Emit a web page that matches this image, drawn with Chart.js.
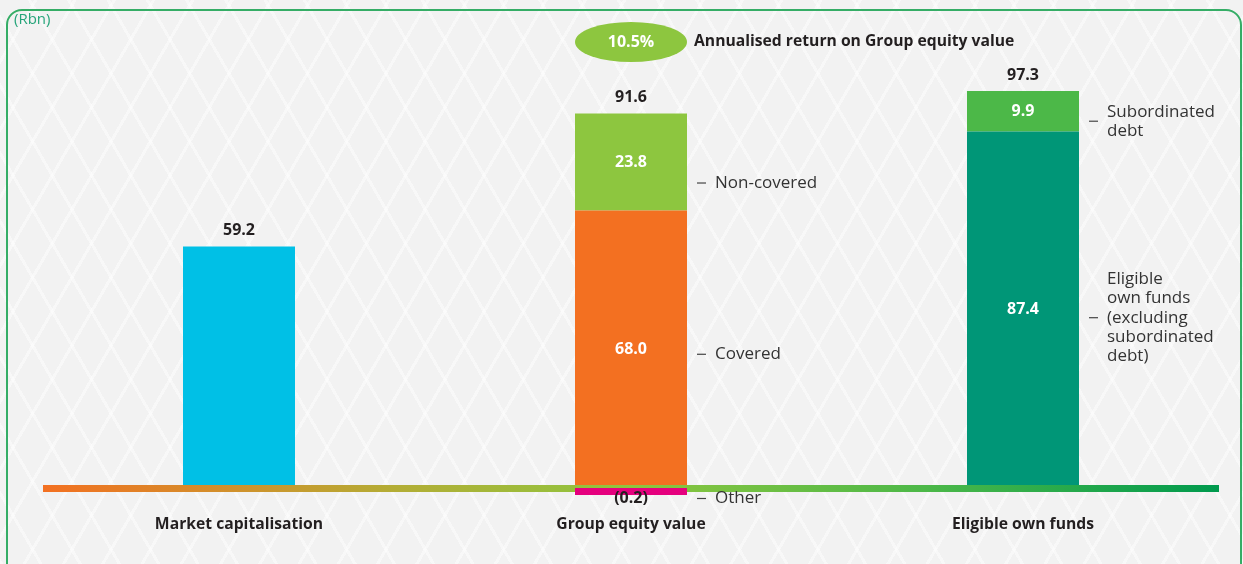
<!DOCTYPE html>
<html>
<head>
<meta charset="utf-8">
<script src="https://cdn.jsdelivr.net/npm/chart.js@4.4.1/dist/chart.umd.min.js"></script>
<style>
  html, body { margin: 0; padding: 0; width: 1243px; height: 564px; overflow: hidden; }
  body {
    background-color: #f2f2f2;
    background-image:
      repeating-linear-gradient(60deg, rgba(255,255,255,0.45) 0 3px, transparent 3px 34px),
      repeating-linear-gradient(-60deg, rgba(255,255,255,0.45) 0 3px, transparent 3px 34px);
    position: relative;
  }
  #frame {
    position: absolute; left: 6px; top: 9px; width: 1232px; height: 620px;
    border: 2px solid #35ad66; border-radius: 16px; box-sizing: content-box;
  }
  #chart { position: absolute; left: 0; top: 0; }
</style>
</head>
<body>
<div id="frame"></div>
<canvas id="chart" width="1243" height="564"></canvas>
<script>
// Group value measures (Rbn)
const categories = ['Market capitalisation', 'Group equity value', 'Eligible own funds'];
const other            = [null, -0.2, null];
const marketCap        = [59.2, null, null];
const covered          = [null, 68.0, null];
const nonCovered       = [null, 23.8, null];
const eligibleOwnFunds = [null, null, 87.4];
const subordinatedDebt = [null, null, 9.9];
const annualisedReturn = '10.5%';
const annualisedReturnText = 'Annualised return on Group equity value';
const unitLabel = '(Rbn)';

// Segment names shown to the right of the stacked bars
const segmentNames = {
  'Non-covered': ['Non-covered'],
  'Covered': ['Covered'],
  'Other': ['Other'],
  'Subordinated debt': ['Subordinated', 'debt'],
  'Eligible own funds': ['Eligible', 'own funds', '(excluding', 'subordinated', 'debt)']
};

const FONT = '"Open Sans", "DejaVu Sans", sans-serif';
const DARK = '#231f20';

const datasets = [
  { label: 'Other', data: other, backgroundColor: '#e5007e', minBarLength: 7, clip: false },
  { label: 'Market capitalisation', data: marketCap, backgroundColor: '#00c0e6' },
  { label: 'Covered', data: covered, backgroundColor: '#f37021' },
  { label: 'Non-covered', data: nonCovered, backgroundColor: '#8dc63f' },
  { label: 'Eligible own funds', data: eligibleOwnFunds, backgroundColor: '#009677' },
  { label: 'Subordinated debt', data: subordinatedDebt, backgroundColor: '#4cb848' }
].map(d => Object.assign({ stack: 's', categoryPercentage: 1, barPercentage: 0.2857, borderWidth: 0 }, d));

function fmt(v) {
  const s = Math.abs(v).toFixed(1);
  return v < 0 ? '(' + s + ')' : s;
}

function text(ctx, str, x, y, font, color, align) {
  ctx.font = font;
  ctx.fillStyle = color;
  ctx.textAlign = align || 'center';
  ctx.textBaseline = 'middle';
  ctx.fillText(str, x, y);
}

const decorations = {
  id: 'decorations',
  // Baseline bar is drawn over the columns, below the small negative segment
  afterDatasetDraw(chart, args) {
    if (chart.data.datasets[args.index].label !== 'Market capitalisation') return;
    const { ctx, chartArea } = chart;
    const y0 = chart.scales.y.getPixelForValue(0);
    const g = ctx.createLinearGradient(chartArea.left, 0, chartArea.right, 0);
    g.addColorStop(0, '#f37021');
    g.addColorStop(0.3, '#b3ad35');
    g.addColorStop(0.5, '#8dc63f');
    g.addColorStop(0.75, '#4cb848');
    g.addColorStop(1, '#009a4e');
    ctx.save();
    ctx.fillStyle = g;
    ctx.fillRect(chartArea.left, y0 - 3, chartArea.right - chartArea.left, 7);
    ctx.restore();
  },
  afterDatasetsDraw(chart) {
    const { ctx } = chart;
    const xs = chart.scales.x;
    const ys = chart.scales.y;
    ctx.save();

    // unit label
    text(ctx, unitLabel, 14, 20, '15px ' + FONT, '#26a57a', 'left');

    // category labels
    categories.forEach((c, i) => {
      text(ctx, c, xs.getPixelForValue(i), 525, 'bold 15.7px ' + FONT, DARK);
    });

    // segment values and side labels
    const offsets = { 'Non-covered': 21, 'Covered': 5, 'Other': 7, 'Subordinated debt': 10, 'Eligible own funds': 8 };
    chart.data.datasets.forEach((ds, di) => {
      const meta = chart.getDatasetMeta(di);
      ds.data.forEach((v, i) => {
        if (v === null) return;
        const el = meta.data[i];
        const p = el.getProps(['x', 'y', 'base', 'width'], true);
        const mid = (p.y + p.base) / 2;
        const right = p.x + p.width / 2;
        const stacked = categories[i] !== 'Market capitalisation';
        if (stacked && v > 0) {
          text(ctx, fmt(v), p.x, mid, 'bold 16px ' + FONT, '#ffffff');
        }
        if (v < 0) {
          text(ctx, fmt(v), p.x, p.base + 10, 'bold 16px ' + FONT, DARK);
        }
        const names = segmentNames[ds.label];
        if (!names) return;
        const lh = 19.3;
        const cy = mid + offsets[ds.label];
        ctx.strokeStyle = '#444';
        ctx.lineWidth = 1.2;
        ctx.beginPath();
        ctx.moveTo(right + 10, cy);
        ctx.lineTo(right + 19, cy);
        ctx.stroke();
        let top = cy - (names.length - 1) * lh / 2;
        if (ds.label === 'Subordinated debt') top = cy - 9;
        names.forEach((n, k) => {
          text(ctx, n, right + 28, top + k * lh, '17px ' + FONT, '#333333', 'left');
        });
      });
    });

    // totals above each column
    categories.forEach((c, i) => {
      let pos = 0, neg = 0;
      chart.data.datasets.forEach(ds => {
        const v = ds.data[i];
        if (v === null) return;
        if (v > 0) pos += v; else neg += v;
      });
      const total = pos + neg;
      const yTop = ys.getPixelForValue(pos);
      text(ctx, fmt(total), xs.getPixelForValue(i), yTop - 16, 'bold 16px ' + FONT, DARK);
    });

    // annualised return badge over the Group equity column
    const bx = xs.getPixelForValue(1);
    const by = 42;
    ctx.fillStyle = '#8dc63f';
    ctx.beginPath();
    ctx.ellipse(bx, by, 56, 20, 0, 0, Math.PI * 2);
    ctx.fill();
    text(ctx, annualisedReturn, bx, by, 'bold 16px ' + FONT, '#ffffff');
    text(ctx, annualisedReturnText, bx + 63, by, 'bold 15.7px ' + FONT, DARK, 'left');

    ctx.restore();
  }
};

new Chart(document.getElementById('chart'), {
  type: 'bar',
  data: { labels: categories, datasets },
  options: {
    responsive: false,
    animation: false,
    layout: { padding: { left: 43, right: 24, top: 80, bottom: 76 } },
    scales: {
      x: { display: false, stacked: true },
      y: { display: false, stacked: true, min: 0, max: 100 }
    },
    plugins: { legend: { display: false }, tooltip: { enabled: false } }
  },
  plugins: [decorations]
});
</script>
</body>
</html>
